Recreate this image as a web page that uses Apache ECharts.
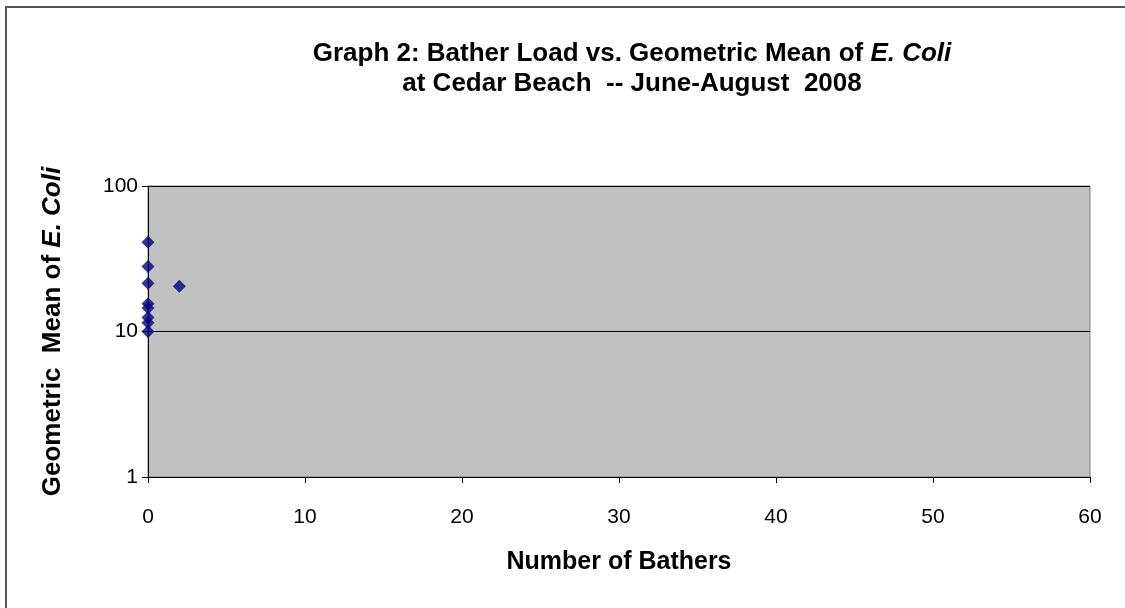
<!DOCTYPE html>
<html>
<head>
<meta charset="utf-8">
<script src="https://cdn.jsdelivr.net/npm/echarts@6/dist/echarts.min.js"></script>
<style>
  html, body { margin: 0; padding: 0; background: #fff; }
  #main { width: 1125px; height: 608px; }
</style>
</head>
<body>
<div id="main"></div>
<script>
// bather counts and geometric mean of E. coli
var bathers = [0, 0, 0, 2, 0, 0, 0, 0, 0]
var geoMean = [41, 28, 21.5, 20.5, 15.5, 14.5, 12.5, 11.5, 10]
var xTicks = [0, 10, 20, 30, 40, 50, 60]

var font = "'Liberation Sans', Arial, sans-serif"
var points = bathers.map(function (b, i) { return [b, geoMean[i]] })

const myCharts = echarts.init(document.getElementById('main'))
const option = {
  backgroundColor: '#fff',
  animation: false,
  title: {
    text: '{b|Graph 2: Bather Load vs. Geometric Mean of }{i|E. Coli}\n{b|at Cedar Beach  -- June-August  2008}',
    left: 627,
    top: 34,
    textAlign: 'center',
    textStyle: {
      lineHeight: 30,
      rich: {
        b: { fontFamily: font, fontWeight: 'bold', fontSize: 26, color: '#000', lineHeight: 30 },
        i: { fontFamily: font, fontWeight: 'bold', fontStyle: 'italic', fontSize: 26, color: '#000', lineHeight: 30 }
      }
    }
  },
  graphic: [
    {
      type: 'polyline',
      shape: { points: [[6, 620], [6, 7], [1130, 7]] },
      style: { stroke: '#555', lineWidth: 2, fill: null }
    }
  ],
  grid: {
    left: 148,
    right: 35,
    top: 186,
    bottom: 131,
    show: true,
    backgroundColor: '#C0C0C0',
    borderColor: '#808080',
    borderWidth: 1
  },
  xAxis: {
    type: 'value',
    min: 0,
    max: 60,
    interval: 10,
    name: 'Number of Bathers',
    nameLocation: 'middle',
    nameGap: 73,
    nameTextStyle: { fontFamily: font, fontWeight: 'bold', fontSize: 25, color: '#000' },
    axisLine: { show: true, lineStyle: { color: '#000', width: 1 } },
    axisTick: { show: true, length: 6, lineStyle: { color: '#000' } },
    axisLabel: {
      margin: 30,
      fontFamily: font,
      fontSize: 21,
      color: '#000',
      formatter: function (v) { return xTicks.indexOf(v) >= 0 ? String(v) : '' }
    },
    splitLine: { show: false }
  },
  yAxis: {
    type: 'log',
    logBase: 10,
    min: 1,
    max: 100,
    name: '{b|Geometric  Mean of }{i|E. Coli}',
    nameLocation: 'middle',
    nameGap: 82,
    nameRotate: 90,
    nameTextStyle: {
      rich: {
        b: { fontFamily: font, fontWeight: 'bold', fontSize: 26, color: '#000' },
        i: { fontFamily: font, fontWeight: 'bold', fontStyle: 'italic', fontSize: 26, color: '#000' }
      }
    },
    axisLine: { show: true, lineStyle: { color: '#000', width: 1 } },
    axisTick: { show: true, length: 6, lineStyle: { color: '#000' } },
    axisLabel: { margin: 10, fontFamily: font, fontSize: 21, color: '#000' },
    splitLine: { show: true, lineStyle: { color: '#000', width: 1 } }
  },
  series: [
    {
      type: 'scatter',
      symbol: 'diamond',
      symbolSize: 13,
      itemStyle: { color: '#000080' },
      data: points
    }
  ]
}
myCharts.setOption(option)
</script>
</body>
</html>
